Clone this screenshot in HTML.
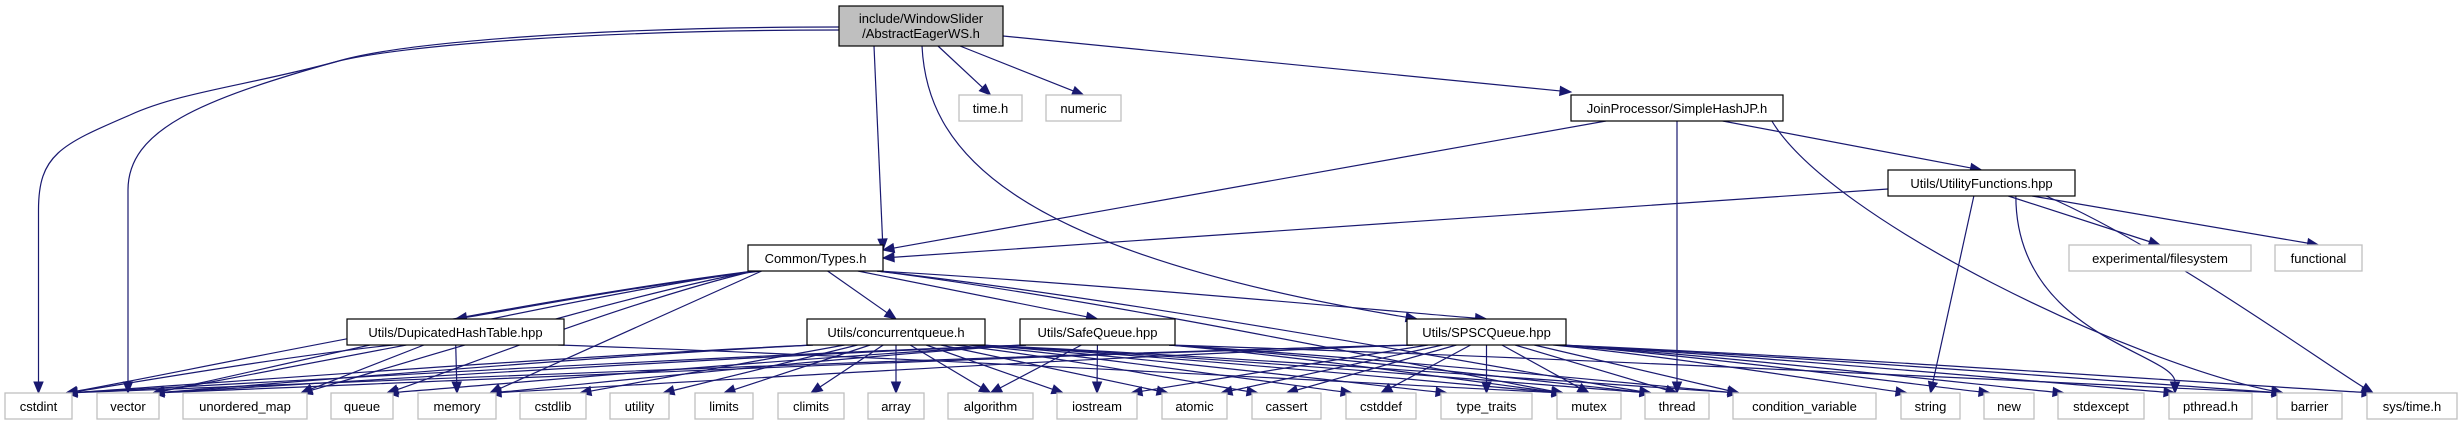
<!DOCTYPE html>
<html><head><meta charset="utf-8"><style>
html,body{margin:0;padding:0;background:#fff;}
svg{display:block;}
text{font-family:"Liberation Sans",sans-serif;font-size:13px;}
</style></head><body>
<svg id="g" width="2463" height="425" viewBox="0 0 2463 425"></svg>
<script>
const nodeIds = ["main","time","numeric","simplehash","utilfn","expfs","functional","types","duphash","cq","safeq","spsc",
"cstdint","vector","umap","queue","memory","cstdlib","utility","limits","climits","array","algorithm","iostream","atomic","cassert","cstddef","type_traits","mutex","thread","condvar","string","new","stdexcept","pthread","barrier","systime"];
const nodeLabels = [["include/WindowSlider","/AbstractEagerWS.h"],["time.h"],["numeric"],["JoinProcessor/SimpleHashJP.h"],["Utils/UtilityFunctions.hpp"],["experimental/filesystem"],["functional"],["Common/Types.h"],["Utils/DupicatedHashTable.hpp"],["Utils/concurrentqueue.h"],["Utils/SafeQueue.hpp"],["Utils/SPSCQueue.hpp"],
["cstdint"],["vector"],["unordered_map"],["queue"],["memory"],["cstdlib"],["utility"],["limits"],["climits"],["array"],["algorithm"],["iostream"],["atomic"],["cassert"],["cstddef"],["type_traits"],["mutex"],["thread"],["condition_variable"],["string"],["new"],["stdexcept"],["pthread.h"],["barrier"],["sys/time.h"]];
const nodeX1 = [839,959,1046,1571,1888,2069,2275,748,347,807,1020,1407,5,97,183,331,418,520,610,695,778,868,948,1057,1162,1252,1346,1441,1557,1645,1733,1901,1984,2058,2169,2277,2367];
const nodeX2 = [1003,1022,1121,1783,2075,2251,2362,883,564,985,1175,1566,72,159,307,393,496,586,669,753,844,924,1033,1137,1227,1321,1416,1532,1621,1709,1876,1960,2034,2144,2252,2342,2457];
const nodeY1 = [6,95,95,95,170,245,245,245,319,319,319,319,393,393,393,393,393,393,393,393,393,393,393,393,393,393,393,393,393,393,393,393,393,393,393,393,393];
const nodeKind = ["main","ext","ext","doc","doc","ext","ext","doc","doc","doc","doc","doc","ext","ext","ext","ext","ext","ext","ext","ext","ext","ext","ext","ext","ext","ext","ext","ext","ext","ext","ext","ext","ext","ext","ext","ext","ext"];
const edgeFrom = [
"main","main","main","main","main","main","main",
"simplehash","simplehash","simplehash","simplehash",
"utilfn","utilfn","utilfn","utilfn","utilfn","utilfn",
"types","types","types","types","types","types","types","types","types","types","types",
"duphash","duphash","duphash","duphash","duphash",
"cq","cq","cq","cq","cq","cq","cq","cq","cq","cq","cq","cq","cq","cq","cq","cq",
"safeq","safeq","safeq","safeq","safeq","safeq","safeq","safeq","safeq","safeq",
"spsc","spsc","spsc","spsc","spsc","spsc","spsc","spsc","spsc","spsc","spsc","spsc","spsc","spsc","spsc","spsc","spsc"];
const edgeTo = [
"cstdint","vector","types","spsc","time","numeric","simplehash",
"types","utilfn","thread","barrier",
"types","expfs","functional","string","pthread","systime",
"cstdint","vector","umap","duphash","memory","queue","cq","safeq","spsc","mutex","thread",
"cstdint","vector","umap","memory","mutex",
"cstdint","vector","cstdlib","utility","limits","climits","array","algorithm","iostream","atomic","cassert","cstddef","type_traits","mutex","thread","condvar",
"cstdint","vector","queue","memory","algorithm","iostream","mutex","thread","condvar","barrier",
"cstdint","vector","memory","iostream","atomic","cassert","cstddef","type_traits","mutex","thread","condvar","string","new","stdexcept","pthread","barrier","systime"];

const svg = document.getElementById('g');
const NS = "http://www.w3.org/2000/svg";
function hgt(i){return i===0?40:26;}
function nd(id){const i=nodeIds.indexOf(id);return {i,x1:nodeX1[i],x2:nodeX2[i],y1:nodeY1[i],y2:nodeY1[i]+hgt(i),cx:(nodeX1[i]+nodeX2[i])/2};}
const edgeLayer=document.createElementNS(NS,'g');


svg.appendChild(edgeLayer);
function addPath(d,name){
  const p=document.createElementNS(NS,'path');
  p.setAttribute('d',d);
  p.setAttribute('fill','none');p.setAttribute('stroke','#191970');p.setAttribute('stroke-width','1.2');
  
  
  edgeLayer.appendChild(p);
}
function arrow(bx,by,ex,ey){
  let dx=ex-bx,dy=ey-by;const L=Math.hypot(dx,dy)||1;dx/=L;dy/=L;
  const px=-dy*4.5,py=dx*4.5;
  const a=document.createElementNS(NS,'polygon');
  a.setAttribute('points',`${bx+px},${by+py} ${ex},${ey} ${bx-px},${by-py}`);
  a.setAttribute('fill','#191970');a.setAttribute('stroke','#191970');
  
  
  edgeLayer.appendChild(a);
}
for(let k=0;k<edgeFrom.length;k++){
  const s=nd(edgeFrom[k]), t=nd(edgeTo[k]);
  const name='edge-'+edgeFrom[k]+'-'+edgeTo[k];
  if(edgeFrom[k]==="main" && (edgeTo[k]==="cstdint"||edgeTo[k]==="vector")){
    const isC=edgeTo[k]==="cstdint";
    const tx=t.cx, ey=t.y1;
    if(isC) addPath(`M${s.x1},27 C600,27 400,42 335,62 C250,85 180,92 130,115 C60,145 ${tx},155 ${tx},210 L${tx},${ey-11}`,name);
    else addPath(`M${s.x1},30 C600,30 400,45 335,62 C200,100 ${tx},130 ${tx},190 L${tx},${ey-11}`,name);
    arrow(tx,ey-11,tx,ey);
    continue;
  }
  let sx,sy,ex,ey,c1x,c1y,c2x,c2y;
  if(edgeTo[k]==="types" && s.cx>t.x2){
    if(edgeFrom[k]==="utilfn"){sx=s.x1;sy=s.y1+19;ey=t.y1+13;}
    else {sx=s.x1+35;sy=s.y2;ey=t.y1+5;}
    ex=t.x2;
    c1x=sx+(ex-sx)/3;c1y=sy+(ey-sy)/3;c2x=sx+(ex-sx)*2/3;c2y=sy+(ey-sy)*2/3;
  } else if(edgeFrom[k]==="main"){
    const sxs={types:913,spsc:922,time:938,numeric:960,simplehash:1003};
    sx=sxs[edgeTo[k]]; sy=edgeTo[k]==="simplehash"?36:s.y2;
    ex=t.cx; ey=t.y1;
    if(edgeTo[k]==="types"){ex=t.x1+4;}
    if(edgeTo[k]==="spsc"){ex=t.x1+10;c1x=sx+5;c1y=sy+100;c2x=1000;c2y=250;}
    else if(edgeTo[k]==="simplehash"){ex=t.x1;ey=t.y1-3;c1x=sx+(ex-sx)/3;c1y=sy+(ey-sy)/3;c2x=sx+(ex-sx)*2/3;c2y=sy+(ey-sy)*2/3;}
    else {c1x=sx+(ex-sx)/3;c1y=sy+(ey-sy)/3;c2x=sx+(ex-sx)*2/3;c2y=sy+(ey-sy)*2/3;}
  } else {
    const w=(s.x2-s.x1)/2-6;
    let off=(t.cx-s.cx)*0.15; off=Math.max(-w,Math.min(w,off));
    sx=s.cx+off; sy=s.y2; ex=t.cx; ey=t.y1;
    if(s.cx - t.cx > 200 && t.y1>380){ex=t.x2-6;}
    else if(t.cx - s.cx > 200 && t.y1>380){ex=t.x1+6;}
    const dx=ex-sx, dy=ey-sy;
    if(Math.abs(dx)>300){
      c1x=sx+dx*0.35;c1y=sy+dy*0.25;c2x=ex-dx*0.15;c2y=ey-dy*0.15;
    } else {
      c1x=sx+dx/3;c1y=sy+dy/3;c2x=sx+dx*2/3;c2y=sy+dy*2/3;
    }
    if(edgeFrom[k]==="simplehash"&&edgeTo[k]==="barrier"){
      c1x=sx+60;c1y=sy+100;c2x=ex-150;c2y=ey-30;
    }
    if(edgeFrom[k]==="utilfn"&&edgeTo[k]==="pthread"){
      c1x=sx;c1y=sy+140;c2x=ex;c2y=ey-40;
    }
  }
  let dx=ex-c2x, ddy=ey-c2y; const L=Math.hypot(dx,ddy)||1; dx/=L; ddy/=L;
  const bx=ex-dx*11, by=ey-ddy*11;
  addPath(`M${sx},${sy} C${c1x},${c1y} ${c2x},${c2y} ${bx},${by}`,name);
  arrow(bx,by,ex,ey);
}
for(let i=0;i<nodeIds.length;i++){
  const g=document.createElementNS(NS,'g');
  
  
  const r=document.createElementNS(NS,'rect');
  r.setAttribute('x',nodeX1[i]);r.setAttribute('y',nodeY1[i]);
  r.setAttribute('width',nodeX2[i]-nodeX1[i]);r.setAttribute('height',hgt(i));
  const k=nodeKind[i];
  r.setAttribute('fill',k==="main"?"#bfbfbf":"#fff");
  r.setAttribute('stroke',k==="ext"?"#bfbfbf":"#000");
  r.setAttribute('stroke-width',k==="ext"?"1.3":"1.2");
  g.appendChild(r);
  const lines=nodeLabels[i];
  for(let j=0;j<lines.length;j++){
    const t=document.createElementNS(NS,'text');
    t.setAttribute('x',(nodeX1[i]+nodeX2[i])/2);
    t.setAttribute('y',nodeY1[i]+(lines.length===1?18:17+j*15));
    t.setAttribute('text-anchor','middle');
    t.textContent=lines[j];
    g.appendChild(t);
  }
  svg.appendChild(g);
}
</script>
</body></html>
